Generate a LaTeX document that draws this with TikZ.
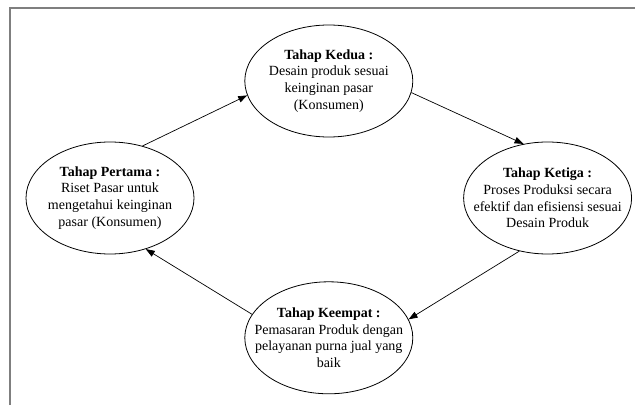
\documentclass[tikz,border=0pt]{standalone}
\usepackage{fontspec}
\setmainfont{Liberation Serif}
\usetikzlibrary{positioning,arrows.meta,shapes.geometric}
\definecolor{bingkai}{HTML}{7f7f7f}

\begin{document}
\begin{tikzpicture}[
  x=1pt, y=1pt,
  font=\fontsize{14}{16.8}\selectfont,
  tahap/.style={draw, ellipse, line width=0.8pt, align=center, minimum width=168pt, minimum height=112pt, inner xsep=-25pt, inner ysep=-8pt},
  panah/.style={-{Triangle[length=9pt,width=6.5pt]}, line width=0.7pt},
  node distance=50pt and 50pt]
\useasboundingbox (0,0) rectangle (635,405);
% ---- bingkai
\draw[bingkai, line width=1.5pt] (10,0) |- (635,397);
% ---- empat tahap
\node[tahap] (pertama) at (110,207) {\textbf{Tahap Pertama :}\\Riset Pasar untuk\\mengetahui keinginan\\pasar (Konsumen)};
\node[tahap, right=of pertama, yshift=117pt] (kedua) {\textbf{Tahap Kedua :}\\Desain produk sesuai\\keinginan pasar\\(Konsumen)};
\node[tahap, right=of kedua, yshift=-117pt] (ketiga) {\textbf{Tahap Ketiga :}\\Proses Produksi secara\\efektif dan efisiensi sesuai\\Desain Produk};
\node[tahap, below=144pt of kedua] (keempat) {\textbf{Tahap Keempat :}\\Pemasaran Produk dengan\\pelayanan purna jual yang\\baik};
% ---- siklus
\draw[panah] (pertama.58) -- (kedua.190);
\draw[panah] (kedua.352) -- (ketiga.114);
\draw[panah] (ketiga.242) -- (keempat.13);
\draw[panah] (keempat.163) -- (pertama.305);
\end{tikzpicture}
\end{document}
